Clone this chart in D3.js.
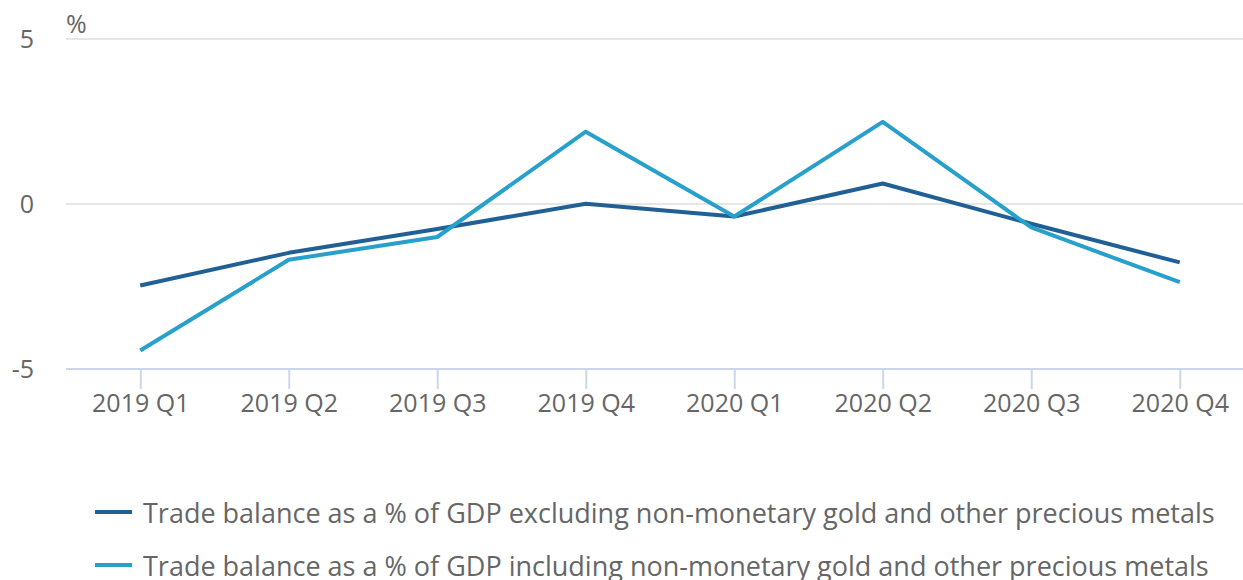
<!DOCTYPE html>
<html>
<head>
<meta charset="utf-8">
<script src="https://cdn.jsdelivr.net/npm/d3@7"></script>
<style>
  html, body { margin: 0; padding: 0; background: #fff; }
  svg { display: block; font-family: "Open Sans", sans-serif; }
</style>
</head>
<body>
<svg id="chart" width="1243" height="580"></svg>
<script>
// Quarterly trade balance as a share of GDP
const quarters = ["2019 Q1", "2019 Q2", "2019 Q3", "2019 Q4", "2020 Q1", "2020 Q2", "2020 Q3", "2020 Q4"];
const excludingMetals = [-2.47, -1.48, -0.76, 0.01, -0.38, 0.62, -0.6, -1.77];
const includingMetals = [-4.44, -1.69, -1.0, 2.19, -0.38, 2.49, -0.71, -2.37];
const yTicks = [-5, 0, 5];
const seriesNames = [
  "Trade balance as a % of GDP excluding non-monetary gold and other precious metals",
  "Trade balance as a % of GDP including non-monetary gold and other precious metals"
];
const seriesColors = ["#206095", "#27a0cc"];

const svg = d3.select("#chart");
const plotLeft = 66, plotRight = 1254, plotTop = 39, plotBottom = 369;

const x = d3.scalePoint().domain(quarters).range([plotLeft, plotRight]).padding(0.5);
const y = d3.scaleLinear().domain([-5, 5]).range([plotBottom, plotTop]);

const textColor = "#666666";

// Horizontal gridlines
svg.append("g")
  .selectAll("line")
  .data(yTicks.filter(t => t !== -5))
  .join("line")
  .attr("x1", plotLeft).attr("x2", plotRight)
  .attr("y1", d => y(d)).attr("y2", d => y(d))
  .attr("stroke", "#e6e6e6").attr("stroke-width", 2);

// Y axis labels
svg.append("g")
  .selectAll("text")
  .data(yTicks)
  .join("text")
  .attr("x", 34)
  .attr("y", d => y(d) + 9)
  .attr("text-anchor", "end")
  .attr("fill", textColor)
  .attr("font-size", 25)
  .text(d => d);

// Unit label
svg.append("text")
  .attr("x", 66).attr("y", 33)
  .attr("fill", textColor)
  .attr("font-size", 25)
  .text("%");

// X axis with tick marks
const xAxis = svg.append("g")
  .attr("transform", `translate(0,${plotBottom})`)
  .call(d3.axisBottom(x).tickSize(20).tickPadding(5).tickSizeOuter(0));
xAxis.select(".domain").attr("stroke", "#ccd6eb").attr("stroke-width", 2)
  .attr("d", `M${plotLeft},0H${plotRight}`);
xAxis.selectAll(".tick line").attr("stroke", "#ccd6eb").attr("stroke-width", 2);
xAxis.selectAll(".tick text")
  .attr("fill", textColor)
  .attr("font-size", 25)
  .attr("font-family", "Open Sans, sans-serif");

// Series lines
const line = d3.line()
  .x((d, i) => x(quarters[i]))
  .y(d => y(d));

[excludingMetals, includingMetals].forEach((vals, i) => {
  svg.append("path")
    .datum(vals)
    .attr("fill", "none")
    .attr("stroke", seriesColors[i])
    .attr("stroke-width", 4)
    .attr("stroke-linejoin", "round")
    .attr("d", line);
});

// Legend
const legend = svg.append("g");
seriesNames.forEach((name, i) => {
  const cy = 512 + i * 53;
  legend.append("line")
    .attr("x1", 95).attr("x2", 132)
    .attr("y1", cy).attr("y2", cy)
    .attr("stroke", seriesColors[i]).attr("stroke-width", 4);
  legend.append("text")
    .attr("x", 143).attr("y", cy + 11)
    .attr("fill", textColor)
    .attr("font-size", 27)
    .text(name);
});
</script>
</body>
</html>
